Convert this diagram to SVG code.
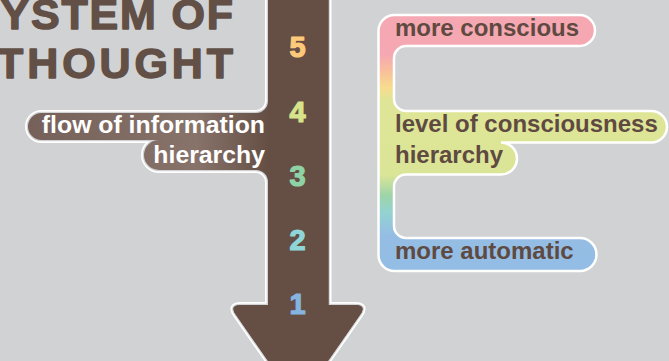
<svg xmlns="http://www.w3.org/2000/svg" width="669" height="361" viewBox="0 0 669 361">
<defs>
<style>
.bg{fill:#d1d2d4}
.title{font-family:"Liberation Sans",Arial,sans-serif;font-weight:bold;font-size:43px;fill:#624f46;stroke:#624f46;stroke-width:1.4;stroke-linejoin:round}
.lbl{font-family:"Liberation Sans",Arial,sans-serif;font-weight:bold;font-size:24px}
.lbl2{font-size:24.8px}
.wt{fill:#ffffff}
.dk{fill:#5f4a42}
.num{font-family:"Liberation Sans",Arial,sans-serif;font-weight:bold;font-size:29px;text-anchor:middle;stroke-width:1.2;stroke-linejoin:round}
</style>
<linearGradient id="brownGrad" gradientUnits="userSpaceOnUse" x1="28" y1="0" x2="268" y2="0">
<stop offset="0" stop-color="#76615a"/>
<stop offset="0.7" stop-color="#88736a"/>
<stop offset="1" stop-color="#654f45"/>
</linearGradient>
<linearGradient id="rainbow" gradientUnits="userSpaceOnUse" x1="0" y1="15" x2="0" y2="271">
<stop offset="0" stop-color="#f6a8b2"/>
<stop offset="0.156" stop-color="#f6a8b2"/>
<stop offset="0.223" stop-color="#f9c19a"/>
<stop offset="0.285" stop-color="#f8dd8e"/>
<stop offset="0.332" stop-color="#dfe596"/>
<stop offset="0.625" stop-color="#dbe597"/>
<stop offset="0.703" stop-color="#9fd4a8"/>
<stop offset="0.77" stop-color="#93d3d0"/>
<stop offset="0.859" stop-color="#95bde4"/>
<stop offset="1" stop-color="#93bde5"/>
</linearGradient>
<path id="arrowShape" d="M 268 -5 L 268 101 A 12 12 0 0 1 256 113 L 41.5 113 A 13.5 13.5 0 0 0 41.5 140 L 159 140 A 15 15 0 0 0 159 170 L 256 170 A 12 12 0 0 1 268 182 L 268 305 L 241 305 Q 229 305 235.9 314.8 L 298 404 L 360.1 314.8 Q 367 305 355 305 L 328.5 305 L 328.5 -5 Z"/>
</defs>
<rect class="bg" x="0" y="0" width="669" height="361"/>

<g id="title">
<text class="title" x="-30" y="29" textLength="263" lengthAdjust="spacing">SYSTEM OF</text>
<text class="title" x="-3" y="78" textLength="236" lengthAdjust="spacing">THOUGHT</text>
</g>

<g id="arrow">
<use href="#arrowShape" fill="none" stroke="#ffffff" stroke-width="6"/>
<use href="#arrowShape" fill="none" stroke="#d1d2d4" stroke-width="2.6"/>
<use href="#arrowShape" fill="url(#brownGrad)"/>
<path d="M 268 -5 L 268 305 L 241 305 Q 229 305 235.9 314.8 L 298 404 L 360.1 314.8 Q 367 305 355 305 L 328.5 305 L 328.5 -5 Z" fill="#654f45"/>
</g>

<g id="flow-label">
<text class="lbl lbl2 wt" x="265" y="133" text-anchor="end">flow of information</text>
<text class="lbl lbl2 wt" x="265" y="163" text-anchor="end">hierarchy</text>
</g>

<g id="levels">
<text class="num" x="297.5" y="57" fill="#fdc97a" stroke="#fdc97a">5</text>
<text class="num" x="297.5" y="122" fill="#d8e48b" stroke="#d8e48b">4</text>
<text class="num" x="297.5" y="186" fill="#8fd2a6" stroke="#8fd2a6">3</text>
<text class="num" x="297.5" y="250" fill="#8fd6d8" stroke="#8fd6d8">2</text>
<text class="num" x="297.5" y="314" fill="#86b4e0" stroke="#86b4e0">1</text>
</g>

<g id="consciousness">
<path d="M 378.5 31 A 16 16 0 0 1 394.5 15 L 579.5 15 A 15.5 15.5 0 0 1 579.5 46 L 406 46 A 12 12 0 0 0 394 58 L 394 99 A 12 12 0 0 0 406 111 L 651.25 111 A 15.75 15.75 0 0 1 651.25 142.5 L 501 142.5 A 16 16 0 0 1 501 174.5 L 406 174.5 A 12 12 0 0 0 394 186.5 L 394 226 A 12 12 0 0 0 406 238 L 580 238 A 16.5 16.5 0 0 1 580 271 L 394.5 271 A 16 16 0 0 1 378.5 255 Z" fill="url(#rainbow)" stroke="#ffffff" stroke-width="2.5"/>
<text class="lbl dk" x="395" y="36">more conscious</text>
<text class="lbl dk" x="395" y="132">level of consciousness</text>
<text class="lbl dk" x="395" y="163">hierarchy</text>
<text class="lbl dk" x="395" y="259">more automatic</text>
</g>
</svg>
